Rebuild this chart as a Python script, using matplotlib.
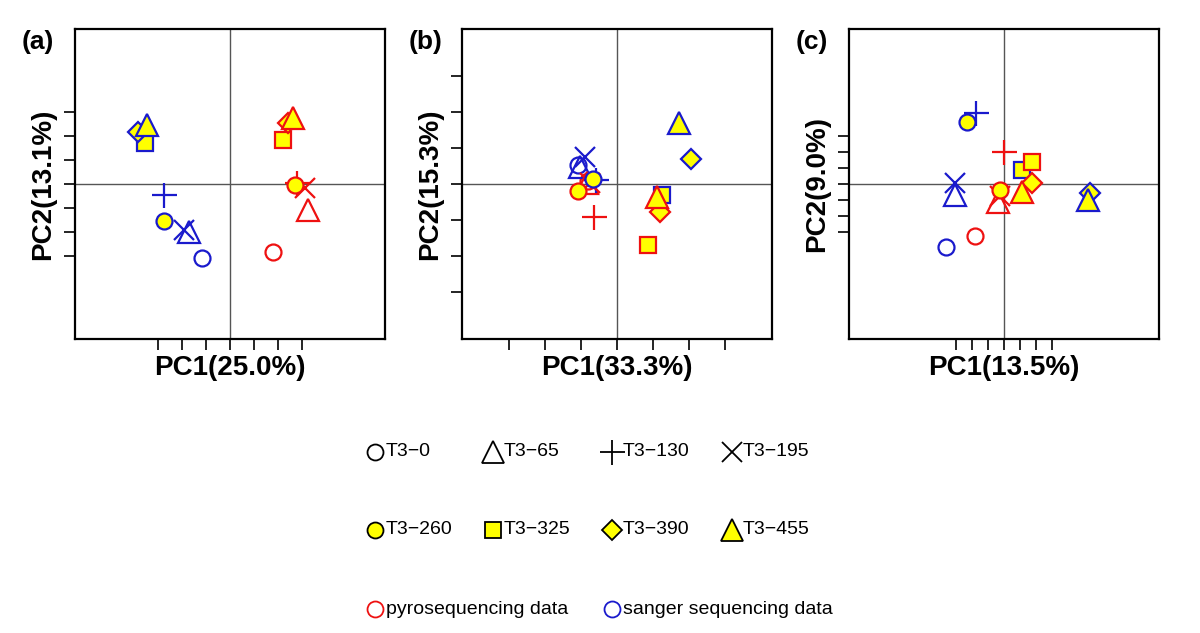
import matplotlib
matplotlib.use('Agg')
import matplotlib.pyplot as plt
from matplotlib.lines import Line2D

plt.rcParams['font.family'] = ['Liberation Sans', 'DejaVu Sans']

# sample order: T3-0, T3-65, T3-130, T3-195, T3-260, T3-325, T3-390, T3-455
samples = ['T3\u22120', 'T3\u221265', 'T3\u2212130', 'T3\u2212195',
           'T3\u2212260', 'T3\u2212325', 'T3\u2212390', 'T3\u2212455']

# panel (a)
a_sanger_x = [-1.17, -1.71, -2.75, -1.92, -2.75, -3.54, -3.83, -3.46]
a_sanger_y = [-3.08, -2.00, -0.46, -1.92, -1.54, 1.71, 2.17, 2.46]
a_pyro_x = [1.79, 3.25, 2.79, 3.12, 2.71, 2.21, 2.42, 2.63]
a_pyro_y = [-2.85, -1.08, 0.04, -0.17, -0.04, 1.83, 2.54, 2.75]

# panel (b)
b_sanger_x = [-1.08, -1.03, -0.58, -0.89, -0.67, 1.24, 2.07, 1.73]
b_sanger_y = [0.53, 0.47, 0.11, 0.75, 0.14, -0.31, 0.69, 1.69]
b_pyro_x = [-0.80, -0.83, -0.64, -0.75, -1.08, 0.87, 1.19, 1.10]
b_pyro_y = [0.08, 0.03, -0.92, 0.03, -0.19, -1.69, -0.77, -0.35]

# panel (c)
c_sanger_x = [-3.65, -3.06, -1.73, -3.06, -2.29, 1.13, 5.37, 5.25]
c_sanger_y = [-3.96, -0.69, 4.46, 0.06, 3.85, 0.87, -0.56, -1.00]
c_pyro_x = [-1.83, -0.37, 0.00, -0.25, -0.25, 1.75, 1.75, 1.13]
c_pyro_y = [-3.23, -1.12, 2.02, -0.75, -0.37, 1.37, 0.06, -0.50]

panel_tags = ['(a)', '(b)', '(c)']
xlabels = ['PC1(25.0%)', 'PC1(33.3%)', 'PC1(13.5%)']
ylabels = ['PC2(13.1%)', 'PC2(15.3%)', 'PC2(9.0%)']
tick_vals = [-3, -2, -1, 0, 1, 2, 3]
half_range = [6.46, 4.31, 9.69]

RED = '#ee1111'
BLUE = '#1a1acc'
YEL = '#ffff00'

# marker style per sample: (marker, size, filled)
styles = [('o', 11.5, False), ('^', 16, False), ('+', 18, False), ('x', 14, False),
          ('o', 11.5, True), ('s', 11, True), ('D', 10, True), ('^', 16, True)]

data = [(a_sanger_x, a_sanger_y, a_pyro_x, a_pyro_y),
        (b_sanger_x, b_sanger_y, b_pyro_x, b_pyro_y),
        (c_sanger_x, c_sanger_y, c_pyro_x, c_pyro_y)]

fig = plt.figure(figsize=(12, 6.33), dpi=100)
lefts = [75, 462, 849]
for i in range(3):
    ax = fig.add_axes([lefts[i] / 1200, 294 / 633, 310 / 1200, 310 / 633])
    sx, sy, px, py = data[i]
    ax.axhline(0, color='#555555', lw=1, zorder=1)
    ax.axvline(0, color='#555555', lw=1, zorder=1)
    for k, (m, ms, filled) in enumerate(styles):
        for xs, ys, col in ((sx, sy, BLUE), (px, py, RED)):
            ax.plot(xs[k], ys[k], linestyle='none', marker=m, markersize=ms,
                    markeredgecolor=col, markeredgewidth=1.6,
                    markerfacecolor=YEL if filled else 'none', zorder=3)
    r = half_range[i]
    ax.set_xlim(-r, r)
    ax.set_ylim(-r, r)
    ax.set_xticks(tick_vals)
    ax.set_yticks(tick_vals)
    ax.set_xticklabels([])
    ax.set_yticklabels([])
    ax.tick_params(direction='out', length=8, width=1.2, color='black')
    for s in ax.spines.values():
        s.set_linewidth(1.6)
    ax.set_xlabel(xlabels[i], fontsize=20, fontweight='bold', labelpad=0)
    ax.set_ylabel(ylabels[i], fontsize=20, fontweight='bold', labelpad=2)
    fig.text((lefts[i] - 53) / 1200, 1 - 42 / 633, panel_tags[i], fontsize=19,
             fontweight='bold', ha='left', va='center')

# legend, drawn by hand
def legend_item(xp, yp, marker, ms, face, edge, label):
    fig.add_artist(Line2D([xp / 1200], [1 - yp / 633], transform=fig.transFigure,
                          linestyle='none', marker=marker, markersize=ms,
                          markerfacecolor=face, markeredgecolor=edge, markeredgewidth=1.3))
    fig.text((xp + 11) / 1200, 1 - yp / 633, label, fontsize=14, ha='left', va='center')

col_x = [375, 493, 612, 732]
for k in range(4):
    m, ms, filled = styles[k]
    legend_item(col_x[k], 452, m, ms, 'none', 'black', samples[k])
for k in range(4, 8):
    m, ms, filled = styles[k]
    legend_item(col_x[k - 4], 530, m, ms, YEL, 'black', samples[k])
legend_item(col_x[0], 609, 'o', 11.5, 'none', RED, 'pyrosequencing data')
legend_item(col_x[2], 609, 'o', 11.5, 'none', BLUE, 'sanger sequencing data')

fig.savefig('out.png', dpi=100)
